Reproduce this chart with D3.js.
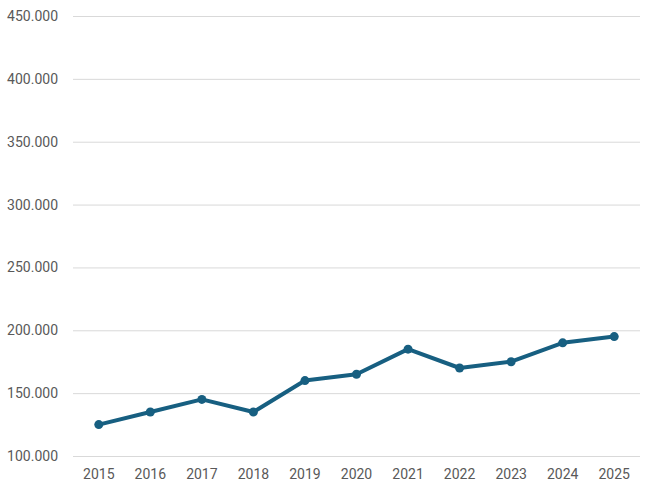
<!DOCTYPE html>
<html>
<head>
<meta charset="utf-8">
<script src="https://cdn.jsdelivr.net/npm/d3@7"></script>
<style>
  body { margin: 0; background: #fff; }
  svg { display: block; }
</style>
</head>
<body>
<div id="viz"></div>
<script>
const years = ['2015', '2016', '2017', '2018', '2019', '2020', '2021', '2022', '2023', '2024', '2025']
const values = [125000, 135000, 145000, 135000, 160000, 165000, 185000, 170000, 175000, 190000, 195000]
const yTicks = [100000, 150000, 200000, 250000, 300000, 350000, 400000, 450000]

const width = 651,
    height = 490

const margin = { top: 16, right: 11, bottom: 34, left: 73 },
    innerWidth = width - margin.left - margin.right,
    innerHeight = height - margin.top - margin.bottom

const svg = d3.select('#viz').append('svg')
    .attr('width', width)
    .attr('height', height)

const g = svg.append('g')
    .attr('transform', `translate(${margin.left}, ${margin.top})`)

const x = d3.scaleBand()
    .domain(years)
    .range([0, innerWidth])

const y = d3.scaleLinear()
    .domain([100000, 450000])
    .range([innerHeight, 0])

// dots as thousands separator
const fmt = d => d3.format(',')(d).replace(/,/g, '.')

// gridlines + y labels
const yAxis = d3.axisLeft(y)
    .tickValues(yTicks)
    .tickSize(-innerWidth)
    .tickPadding(15)
    .tickFormat(fmt)

const yAxisG = g.append('g').call(yAxis)
    .attr('font-family', 'Roboto, sans-serif')
    .attr('font-size', 14)
yAxisG.select('.domain').remove()
yAxisG.selectAll('line').attr('stroke', '#d9d9d9')
yAxisG.selectAll('text').attr('fill', '#595959')

const xAxis = d3.axisBottom(x).tickSize(0).tickPadding(13)
const xAxisG = g.append('g')
    .attr('transform', `translate(0, ${innerHeight})`)
    .call(xAxis)
    .attr('font-family', 'Roboto, sans-serif')
    .attr('font-size', 14)
xAxisG.select('.domain').remove()
xAxisG.selectAll('text').attr('fill', '#595959')

const cx = (d, i) => x(years[i]) + x.bandwidth() / 2

const line = d3.line()
    .x(cx)
    .y(d => y(d))

g.append('path')
    .datum(values)
    .attr('fill', 'none')
    .attr('stroke', '#175f81')
    .attr('stroke-width', 4)
    .attr('stroke-linejoin', 'round')
    .attr('d', line)

g.selectAll('circle').data(values)
    .enter()
    .append('circle')
    .attr('cx', cx)
    .attr('cy', d => y(d))
    .attr('r', 4.5)
    .attr('fill', '#175f81')
</script>
</body>
</html>
